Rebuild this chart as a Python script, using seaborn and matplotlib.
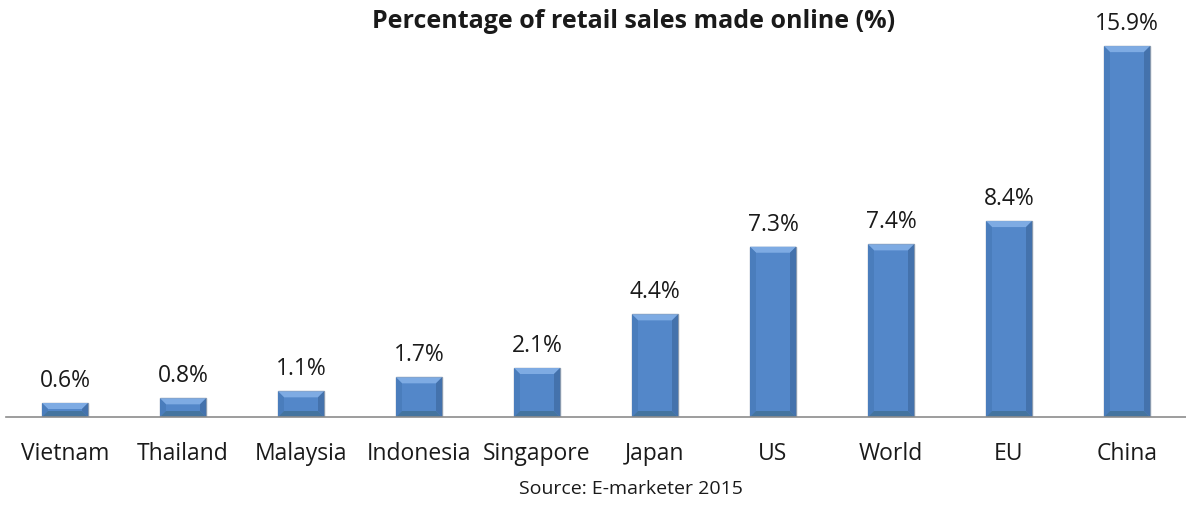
import matplotlib
matplotlib.use("Agg")
import matplotlib.pyplot as plt
from matplotlib.patches import Polygon
import seaborn as sns
import pandas as pd

categories = ["Vietnam", "Thailand", "Malaysia", "Indonesia", "Singapore",
              "Japan", "US", "World", "EU", "China"]
values = [0.6, 0.8, 1.1, 1.7, 2.1, 4.4, 7.3, 7.4, 8.4, 15.9]
labels = ["0.6%", "0.8%", "1.1%", "1.7%", "2.1%", "4.4%", "7.3%", "7.4%", "8.4%", "15.9%"]
title = "Percentage of retail sales made online (%)"
source = "Source: E-marketer 2015"

sns.set_theme(style="white")
plt.rcParams["font.family"] = ["Open Sans", "DejaVu Sans"]

df = pd.DataFrame({"country": categories, "value": values})

fig = plt.figure(figsize=(11.86, 5.06), dpi=100)
ax = fig.add_axes([6 / 1186, (506 - 418) / 506, 1180 / 1186, 418 / 506])
sns.barplot(data=df, x="country", y="value", ax=ax, color="#5387C9",
            saturation=1, width=0.39, edgecolor="#8A9BB0", linewidth=1.0)

ax.set_xlim(-0.5, 9.5)
ax.set_ylim(0, 17.92)

# bevel effect derived from bar geometry
px_x = 10 / 1180 * 6   # ~6 px in x data units
px_y = 17.92 / 418 * 6  # ~6 px in y data units
bars = list(ax.patches)
for patch in bars:
    x0 = patch.get_x()
    w = patch.get_width()
    h = patch.get_height()
    x1 = x0 + w
    b = min(px_y, h / 2)
    bx = px_x
    top = Polygon([(x0, h), (x1, h), (x1 - bx, h - b), (x0 + bx, h - b)],
                  closed=True, facecolor="#7EABE3", edgecolor="none", zorder=3)
    right = Polygon([(x1, h), (x1, 0), (x1 - bx, b), (x1 - bx, h - b)],
                    closed=True, facecolor="#4472AC", edgecolor="none", zorder=3)
    left = Polygon([(x0, h), (x0, 0), (x0 + bx, b), (x0 + bx, h - b)],
                   closed=True, facecolor="#4A7DBC", edgecolor="none", zorder=3)
    bottom = Polygon([(x0, 0), (x1, 0), (x1 - bx, b), (x0 + bx, b)],
                     closed=True, facecolor="#44749F", edgecolor="none", zorder=3)
    for p in (top, right, left, bottom):
        ax.add_patch(p)

for patch, lab in zip(bars, labels):
    x = patch.get_x() + patch.get_width() / 2
    ax.annotate(lab, (x, patch.get_height()), xytext=(0, 8),
                textcoords="offset points", ha="center", va="bottom",
                fontsize=16.5, color="#1a1a1a")

ax.set_xlabel("")
ax.set_ylabel("")
ax.set_yticks([])
ax.tick_params(axis="x", length=0, labelsize=16.5, pad=17, colors="#1a1a1a")
for s in ["top", "right", "left"]:
    ax.spines[s].set_visible(False)
ax.spines["bottom"].set_color("#8c8c8c")
ax.spines["bottom"].set_linewidth(1.2)
ax.spines["bottom"].set_zorder(5)

fig.text(634 / 1186, 1 - 22 / 506, title, ha="center", va="center",
         fontsize=18, fontweight="bold", color="#1a1a1a")
fig.text(631 / 1186, 1 - 489 / 506, source, ha="center", va="center",
         fontsize=14, color="#1a1a1a")

fig.savefig("out.png", dpi=100)
